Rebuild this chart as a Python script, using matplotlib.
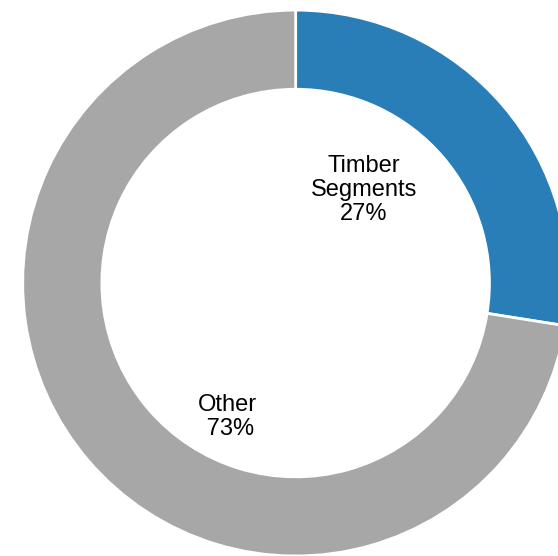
import matplotlib.pyplot as plt

labels = ['Timber\nSegments\n27%', 'Other\n 73%']
shares = [27.5, 72.5]
colors = ['#2A7EB8', '#A7A7A7']
label_pos = [(0.25, 0.34), (-0.25, -0.49)]

plt.rcParams['font.family'] = ['Liberation Sans', 'DejaVu Sans']

fig = plt.figure(figsize=(5.58, 5.56), dpi=100)
ax = fig.add_axes([0, 0, 1, 1])

ax.pie(shares, colors=colors, startangle=90, counterclock=False,
       radius=1.0, wedgeprops=dict(width=0.29, edgecolor='white', linewidth=2))

for text, (x, y) in zip(labels, label_pos):
    ax.text(x, y, text, ha='center', va='center', fontsize=17,
            multialignment='center', color='black', linespacing=1.12)

ax.set_xlim(-1.083, 0.961)
ax.set_ylim(-1.0, 1.037)
ax.set_aspect('equal')
ax.axis('off')

fig.savefig('out.png', dpi=100)
